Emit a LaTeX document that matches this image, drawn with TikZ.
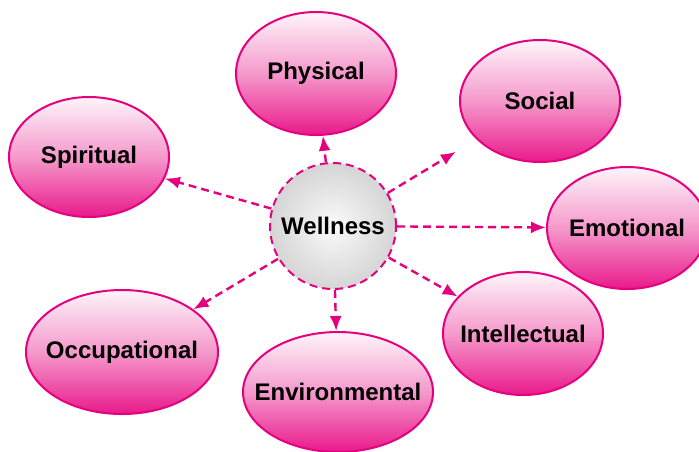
\documentclass[tikz,border=0pt]{standalone}
\usepackage{fontspec}
\setmainfont{Liberation Sans}
\usetikzlibrary{arrows.meta,shapes.geometric}
\definecolor{mag}{HTML}{E6007E}
\newcommand{\lbl}[1]{\makebox[0pt]{#1}}
\begin{document}
\begin{tikzpicture}[x=0.5pt,y=-0.5pt,
    leaf/.style={ellipse,draw=mag,line width=1pt,inner sep=0pt,
      top color=mag!4,bottom color=mag!90,middle color=mag!40,
      font=\bfseries\fontsize{12}{14}\selectfont},
    arr/.style={draw=mag,line width=1.2pt,dash pattern=on 4pt off 2.5pt,
      -{Latex[length=7.5pt,width=6pt]}}]
        \useasboundingbox (0,0) rectangle (699,451);
        \node[circle,draw=mag,line width=1pt,dash pattern=on 4pt off 2.5pt,
          minimum size=63pt,inner color=gray!4,outer color=gray!33,
          font=\bfseries\fontsize{12}{14}\selectfont] (well) at (333,226) {\lbl{Wellness}};
        \node[leaf,minimum width=80pt,minimum height=61.5pt] (phys) at (316,73.5) {\lbl{Physical}};
        \node[leaf,minimum width=80pt,minimum height=61pt] (soc) at (540,101) {\lbl{Social}};
        \node[leaf,minimum width=80pt,minimum height=60pt] (spir) at (89,157) {\lbl{Spiritual}};
        \node[leaf,minimum width=80pt,minimum height=61pt] (emo) at (627,228) {\lbl{Emotional}};
        \node[leaf,minimum width=80pt,minimum height=61.5pt] (intel) at (523,333.5) {\lbl{Intellectual}};
        \node[leaf,minimum width=96pt,minimum height=62pt] (occ) at (122,352) {\lbl{Occupational}};
        \node[leaf,minimum width=95pt,minimum height=60pt] (env) at (338,392) {\lbl{Environmental}};
        \foreach \n in {phys,spir,emo,intel,occ,env}{
          \draw[arr] (well) -- (\n);
        }
        \draw[arr,shorten >=12pt] (well) -- (soc);

      \end{tikzpicture}
\end{document}
